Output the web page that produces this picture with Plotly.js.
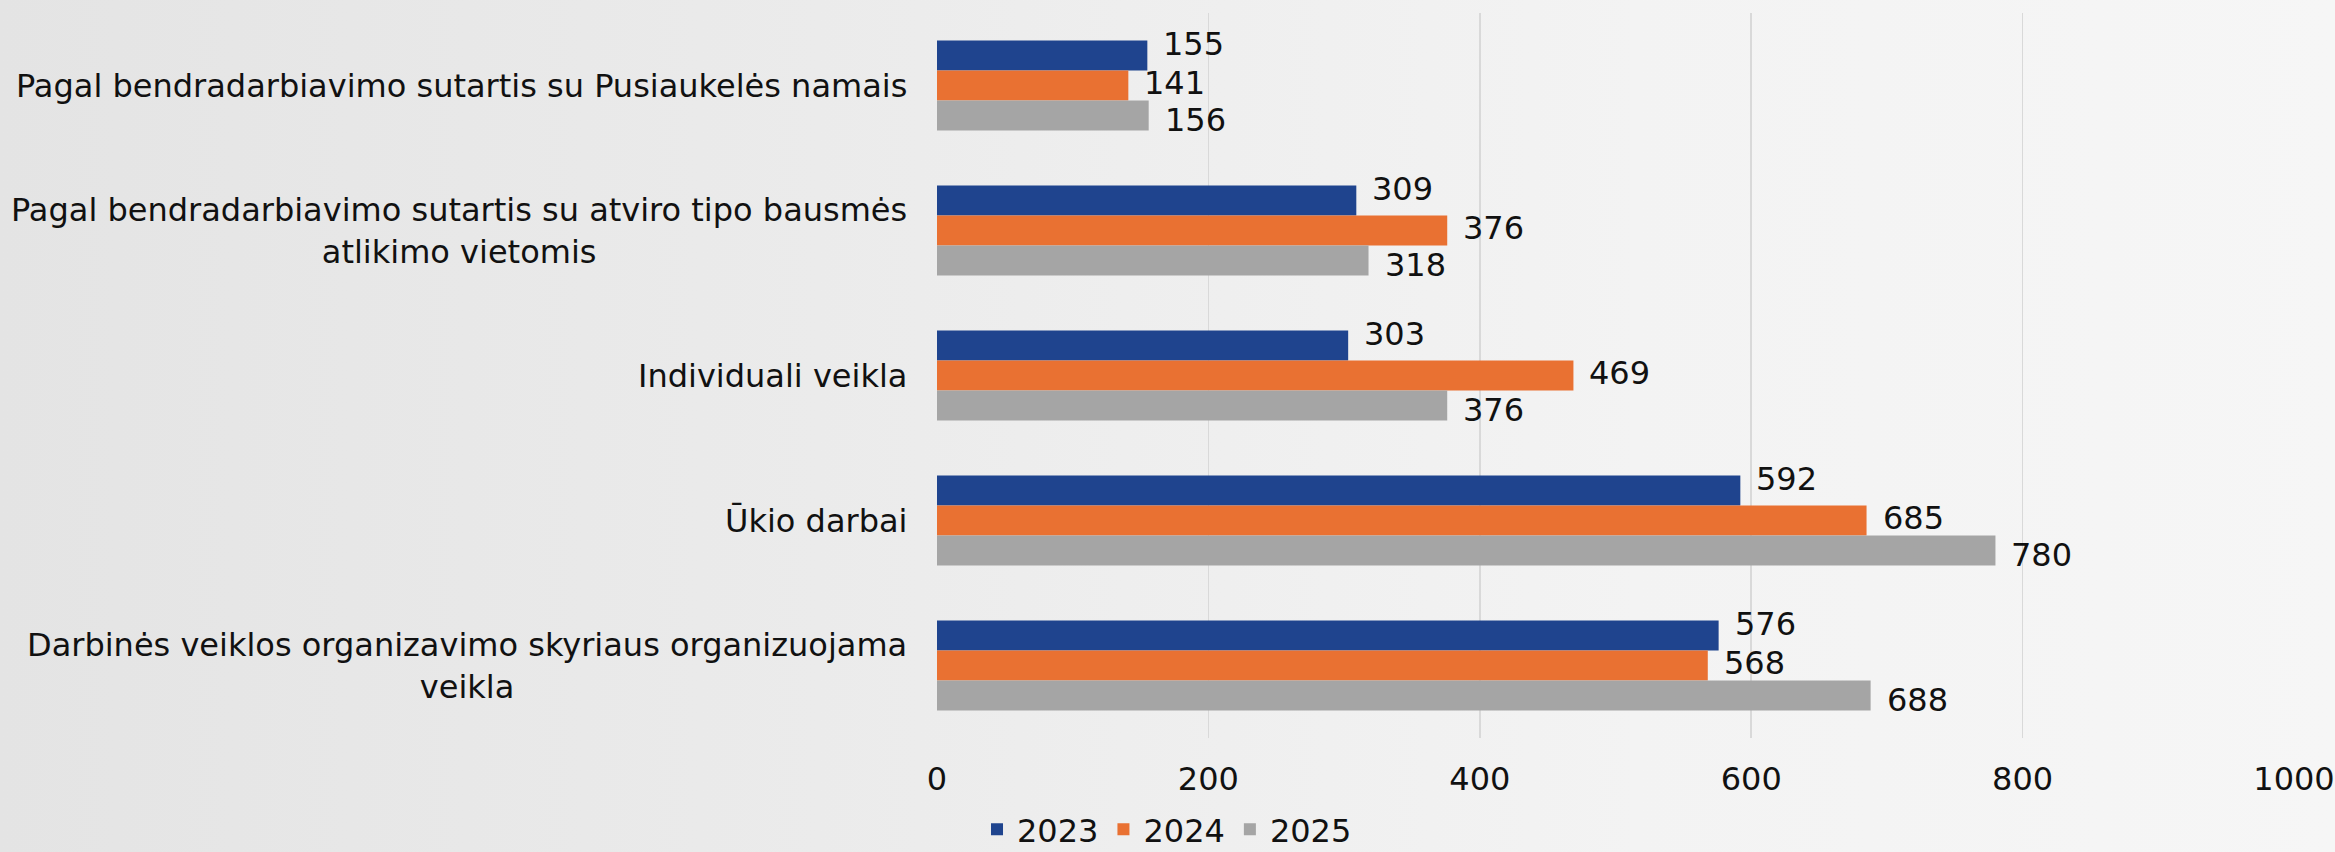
<!DOCTYPE html>
<html>
<head>
<meta charset="utf-8">
<script src="https://cdn.plot.ly/plotly-3.0.1.min.js"></script>
<style>
  html, body { margin: 0; padding: 0; width: 2335px; height: 852px; overflow: hidden; }
  body { background: linear-gradient(90deg, #e4e4e4 0%, #ebebeb 35%, #f3f3f3 70%, #f6f6f6 100%); }
  #chart { width: 2335px; height: 852px; }
</style>
</head>
<body>
<div id="chart"></div>
<script>
// Categories, top to bottom
const categories = [
  "Pagal bendradarbiavimo sutartis su Pusiaukelės namais",
  "Pagal bendradarbiavimo sutartis su atviro tipo bausmės<br>atlikimo vietomis",
  "Individuali veikla",
  "Ūkio darbai",
  "Darbinės veiklos organizavimo skyriaus organizuojama<br>veikla"
];
const seriesNames = ["2023", "2024", "2025"];
const values2023 = [155, 309, 303, 592, 576];
const values2024 = [141, 376, 469, 685, 568];
const values2025 = [156, 318, 376, 780, 688];
const xTickValues = [0, 200, 400, 600, 800, 1000];

const seriesValues = [values2023, values2024, values2025];
const colors = ["#1F448E", "#E97132", "#A5A5A5"];
const labelYShift = [42, 3, -34];

const font = "DejaVu Sans, sans-serif";
const textColor = "#111111";

const traces = seriesValues.map((vals, i) => ({
  type: "bar",
  orientation: "h",
  name: seriesNames[i],
  x: vals,
  y: categories,
  marker: { color: colors[i], line: { width: 0 } },
  hoverinfo: "x+name"
}));

const annotations = [];
seriesValues.forEach((vals, i) => {
  vals.forEach((v, j) => {
    annotations.push({
      x: v, y: categories[j], xref: "x", yref: "y",
      text: String(v), showarrow: false,
      xanchor: "left", yanchor: "middle",
      xshift: 14, yshift: labelYShift[i],
      font: { family: font, size: 32, color: textColor }
    });
  });
});
categories.forEach((c) => {
  annotations.push({
    x: 0, y: c, xref: "paper", yref: "y",
    text: c, showarrow: false,
    xanchor: "right", yanchor: "middle", align: "center",
    xshift: -28,
    font: { family: font, size: 32, color: textColor }
  });
});

const layout = {
  width: 2335, height: 852,
  margin: { l: 937, r: 41, t: 13, b: 114, pad: 0, autoexpand: false },
  paper_bgcolor: "rgba(0,0,0,0)",
  plot_bgcolor: "rgba(0,0,0,0)",
  barmode: "group",
  bargap: 0.38,
  bargroupgap: 0,
  font: { family: font, size: 32, color: textColor },
  xaxis: {
    range: [0, 1000],
    tickvals: xTickValues,
    ticktext: xTickValues.map(String),
    showgrid: true, gridcolor: "#d9d9d9", gridwidth: 1.5,
    zeroline: false, showline: false, ticks: "",
    ticklabelstandoff: 19,
    automargin: false,
    tickfont: { family: font, size: 32, color: textColor },
    fixedrange: true
  },
  yaxis: {
    type: "category",
    autorange: "reversed",
    showticklabels: false,
    automargin: false,
    showgrid: false, zeroline: false, showline: false, ticks: "",
    fixedrange: true
  },
  showlegend: true,
  legend: {
    orientation: "h",
    x: 0.1695, xanchor: "center", xref: "paper",
    y: -0.126, yanchor: "middle", yref: "paper",
    font: { family: font, size: 32, color: textColor },
    bgcolor: "rgba(0,0,0,0)",
    traceorder: "normal"
  },
  annotations: annotations
};

Plotly.newPlot("chart", traces, layout, { displayModeBar: false, staticPlot: true });
</script>
</body>
</html>
